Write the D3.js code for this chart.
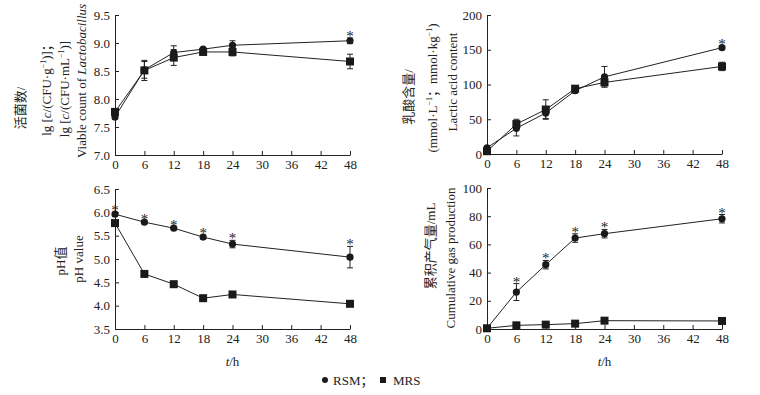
<!DOCTYPE html>
<html>
<head>
<meta charset="utf-8">
<style type="text/css">
body { margin: 0; background: #fff; }
text { font-family: "Liberation Serif", "Noto Sans CJK SC", serif; fill: #222; }
</style>
</head>
<body>
<script src="https://d3js.org/d3.v7.min.js"></script>
<script>
// sampling times (h)
var hours = [0, 6, 12, 18, 24, 48];
var xTicks = [0, 6, 12, 18, 24, 30, 36, 42, 48];

// viable count, lg CFU
var countRSM = [7.68, 8.52, 8.83, 8.89, 8.96, 9.04];
var countRSMErr = [0.04, 0.15, 0.12, 0.03, 0.08, 0.05];
var countMRS = [7.77, 8.51, 8.74, 8.84, 8.84, 8.67];
var countMRSErr = [0.05, 0.18, 0.14, 0.03, 0.07, 0.13];
var countStars = [48];

// lactic acid, mmol/L ; mmol/kg
var lacticRSM = [9, 37, 59, 91, 111, 153];
var lacticRSMErr = [2, 11, 8, 3, 15, 2];
var lacticMRS = [4, 43, 64, 94, 103, 126];
var lacticMRSErr = [2, 7, 14, 3, 5, 6];
var lacticStars = [48];

// pH
var phRSM = [5.96, 5.79, 5.66, 5.47, 5.32, 5.04];
var phRSMErr = [0.04, 0.03, 0.03, 0.04, 0.08, 0.23];
var phMRS = [5.77, 4.68, 4.46, 4.16, 4.24, 4.04];
var phMRSErr = [0.03, 0.02, 0.02, 0.02, 0.02, 0.02];
var phStars = [0, 6, 12, 18, 24, 48];

// cumulative gas, mL
var gasRSM = [0.5, 26.2, 45.6, 64.5, 67.6, 78.2];
var gasRSMErr = [0.5, 6, 3, 3, 3, 3];
var gasMRS = [0.5, 2.6, 3.1, 3.8, 5.9, 5.7];
var gasMRSErr = [0.3, 0.5, 0.5, 0.5, 0.5, 2];
var gasStars = [6, 12, 18, 24, 48];

var svg = d3.select("body").append("svg")
    .attr("width", 760)
    .attr("height", 395);

var panels = [
  { left: 115, top: 15, bottom: 155, dom: [7, 9.5], ticks: [7, 7.5, 8, 8.5, 9, 9.5], fmt: d3.format(".1f"),
    rsm: countRSM, rsmErr: countRSMErr, mrs: countMRS, mrsErr: countMRSErr, stars: countStars, xlab: false,
    labels: [
      { cx: 20, cy: 108, parts: [["活菌数/", ""]] },
      { cx: 46, cy: 87, parts: [["lg [", ""], ["c", "i"], ["/(CFU·g", ""], ["−1", "s"], [")]；", "b"]] },
      { cx: 64, cy: 89, parts: [["lg [", ""], ["c", "i"], ["/(CFU·mL", ""], ["−1", "s"], [")]", "b"]] },
      { cx: 81, cy: 81, parts: [["Viable count of ", ""], ["Lactobacillus", "i"]] }
    ] },
  { left: 487, top: 15, bottom: 154, dom: [0, 200], ticks: [0, 50, 100, 150, 200], fmt: d3.format("d"),
    rsm: lacticRSM, rsmErr: lacticRSMErr, mrs: lacticMRS, mrsErr: lacticMRSErr, stars: lacticStars, xlab: false,
    labels: [
      { cx: 408, cy: 97, parts: [["乳酸含量/", ""]] },
      { cx: 432, cy: 88, parts: [["(mmol·L", ""], ["−1", "s"], ["；mmol·kg", "b"], ["−1", "s"], [")", "b"]] },
      { cx: 452, cy: 82, parts: [["Lactic acid content", ""]] }
    ] },
  { left: 115, top: 189, bottom: 329, dom: [3.5, 6.5], ticks: [3.5, 4, 4.5, 5, 5.5, 6, 6.5], fmt: d3.format(".1f"),
    rsm: phRSM, rsmErr: phRSMErr, mrs: phMRS, mrsErr: phMRSErr, stars: phStars, xlab: true,
    labels: [
      { cx: 60, cy: 261, parts: [["pH值", ""]] },
      { cx: 78, cy: 259, parts: [["pH value", ""]] }
    ] },
  { left: 487, top: 188, bottom: 329, dom: [0, 100], ticks: [0, 20, 40, 60, 80, 100], fmt: d3.format("d"),
    rsm: gasRSM, rsmErr: gasRSMErr, mrs: gasMRS, mrsErr: gasMRSErr, stars: gasStars, xlab: true,
    labels: [
      { cx: 430, cy: 246, parts: [["累积产气量/mL", ""]] },
      { cx: 450, cy: 258, parts: [["Cumulative gas production", ""]] }
    ] }
];

var plotW = 235;

panels.forEach(function(p) {
  var x = d3.scaleLinear().domain([0, 48]).range([p.left, p.left + plotW]);
  var y = d3.scaleLinear().domain(p.dom).range([p.bottom, p.top]);

  var xAxis = d3.axisBottom(x).tickValues(xTicks).tickSize(-4).tickPadding(5).tickSizeOuter(0);
  var yAxis = d3.axisLeft(y).tickValues(p.ticks).tickFormat(p.fmt).tickSize(-4).tickPadding(5).tickSizeOuter(0);

  var gx = svg.append("g").attr("transform", "translate(0," + p.bottom + ")").call(xAxis);
  var gy = svg.append("g").attr("transform", "translate(" + p.left + ",0)").call(yAxis);
  [gx, gy].forEach(function(g) {
    g.selectAll("path, line").attr("stroke", "#222");
    g.selectAll("text").attr("font-size", 13).attr("fill", "#222")
      .style("font-family", "'Liberation Serif', serif");
  });

  // y axis label lines (i = italic, s = superscript, b = back to baseline)
  p.labels.forEach(function(l) {
    var t = svg.append("text")
      .attr("transform", "translate(" + l.cx + "," + l.cy + ") rotate(-90)")
      .attr("text-anchor", "middle")
      .attr("dy", "0.35em")
      .attr("font-size", 13);
    l.parts.forEach(function(pt) {
      var s = t.append("tspan").text(pt[0]);
      if (pt[1] === "i") s.attr("font-style", "italic");
      if (pt[1] === "s") s.attr("font-size", 8).attr("dy", "-5");
      if (pt[1] === "b") s.attr("dy", "5");
    });
  });

  if (p.xlab) {
    var xl = svg.append("text")
      .attr("x", p.left + plotW / 2)
      .attr("y", 366)
      .attr("text-anchor", "middle")
      .attr("font-size", 13);
    xl.append("tspan").attr("font-style", "italic").text("t");
    xl.append("tspan").text("/h");
  }

  var line = d3.line().x(function(d, i) { return x(hours[i]); }).y(function(d) { return y(d); });

  function drawSeries(vals, errs, shape) {
    svg.append("path").datum(vals)
      .attr("d", line)
      .attr("fill", "none")
      .attr("stroke", "#222")
      .attr("stroke-width", 1);

    var eb = svg.append("g").attr("stroke", "#222").attr("stroke-width", 1);
    vals.forEach(function(v, i) {
      var cx = x(hours[i]);
      var y1 = y(v + errs[i]), y2 = y(v - errs[i]);
      eb.append("line").attr("x1", cx).attr("x2", cx).attr("y1", y1).attr("y2", y2);
      eb.append("line").attr("x1", cx - 3).attr("x2", cx + 3).attr("y1", y1).attr("y2", y1);
      eb.append("line").attr("x1", cx - 3).attr("x2", cx + 3).attr("y1", y2).attr("y2", y2);
    });

    vals.forEach(function(v, i) {
      if (shape === "circle") {
        svg.append("circle").attr("cx", x(hours[i])).attr("cy", y(v)).attr("r", 3.6).attr("fill", "#1a1a1a");
      } else {
        svg.append("rect").attr("x", x(hours[i]) - 4).attr("y", y(v) - 4)
          .attr("width", 8).attr("height", 8).attr("fill", "#1a1a1a");
      }
    });
  }

  drawSeries(p.mrs, p.mrsErr, "square");
  drawSeries(p.rsm, p.rsmErr, "circle");

  // significance marks
  p.stars.forEach(function(h) {
    var i = hours.indexOf(h);
    var top = y(p.rsm[i] + p.rsmErr[i]);
    svg.append("text")
      .attr("x", x(h))
      .attr("y", top + 3)
      .attr("text-anchor", "middle")
      .attr("font-size", 15)
      .attr("fill", "#444")
      .text("*");
  });
});

// legend
var legend = svg.append("g");
legend.append("circle").attr("cx", 325).attr("cy", 380).attr("r", 3).attr("fill", "#1a1a1a");
legend.append("text").attr("x", 333).attr("y", 384.5).attr("font-size", 13).text("RSM；");
legend.append("rect").attr("x", 380).attr("y", 377).attr("width", 6).attr("height", 6).attr("fill", "#1a1a1a");
legend.append("text").attr("x", 393).attr("y", 384.5).attr("font-size", 13).text("MRS");
</script>
</body>
</html>
